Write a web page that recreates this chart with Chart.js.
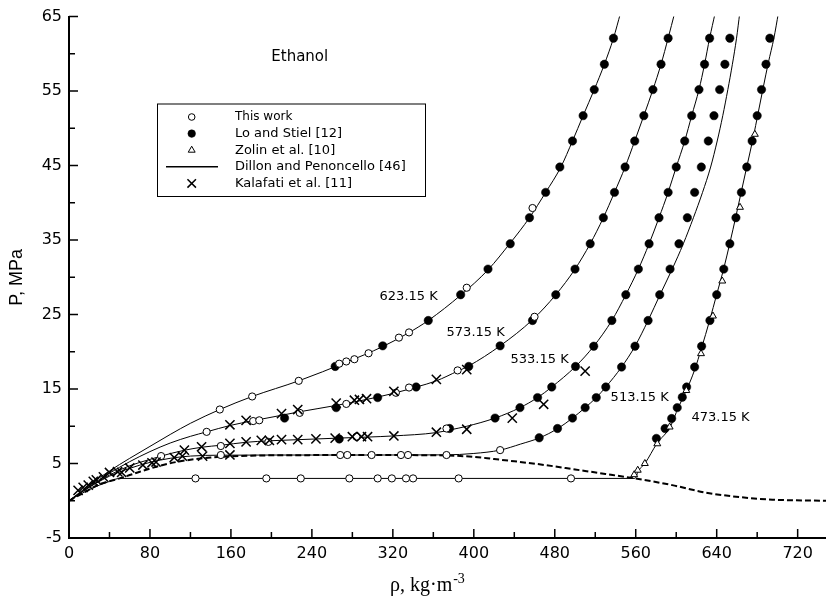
<!DOCTYPE html>
<html>
<head>
<meta charset="utf-8">
<script src="https://cdn.jsdelivr.net/npm/chart.js@4/dist/chart.umd.min.js"></script>
<style>
  html, body { margin: 0; padding: 0; background: #fff; overflow: hidden; }
  canvas { display: block; }
</style>
</head>
<body>
<canvas id="pvt" width="826" height="598"></canvas>
<script>
// ---- data (density kg/m3, pressure MPa) ----

// Dillon and Penoncello isotherms
const d623Rho = [0, 20, 40, 60, 80, 100, 120, 149, 181, 227, 274, 310, 335, 355, 387, 414, 436, 455, 471, 486, 497.5, 508, 519, 529, 538, 545];
const d623P   = [0, 2.1, 4.0, 5.7, 7.3, 8.9, 10.4, 12.25, 14.0, 16.1, 18.6, 20.7, 22.5, 24.2, 27.6, 31.0, 34.6, 38.0, 41.4, 44.8, 48.3, 51.7, 55.2, 58.6, 62.1, 65.5];
const d573Rho = [0, 20, 40, 60, 80, 100, 120, 136, 159, 182, 211, 228, 264, 294, 320, 344, 363, 384, 395, 426, 458, 481, 500, 515, 528, 539, 549.5, 559, 568, 577, 585, 592, 598.5];
const d573P   = [0, 1.95, 3.7, 5.25, 6.6, 7.75, 8.65, 9.25, 10.1, 10.75, 11.5, 11.95, 12.8, 13.6, 14.4, 15.3, 16.1, 17.4, 18.1, 20.8, 24.3, 27.66, 31.1, 34.5, 38.0, 41.4, 44.8, 48.3, 51.7, 55.2, 58.6, 62.1, 65.5];
const d533Rho = [0, 20, 40, 60, 80, 91, 113, 132, 150, 175, 198, 226, 264, 295, 320, 363, 376, 393, 421, 445.6, 463, 477, 500.5, 518.5, 536.4, 550.2, 562.6, 573.2, 583, 592, 600, 608.4, 615.3, 622.5, 628, 633, 638.5];
const d533P   = [0, 1.85, 3.45, 4.7, 5.55, 6.0, 6.75, 7.2, 7.45, 7.85, 8.05, 8.2, 8.4, 8.55, 8.7, 9.15, 9.5, 10.0, 11.1, 12.5, 13.85, 15.27, 18.03, 20.75, 24.2, 27.66, 31.1, 34.5, 38.0, 41.4, 44.8, 48.3, 51.7, 55.2, 58.6, 62.1, 65.5];
const d513Rho = [0, 20, 40, 60, 80, 100, 120, 150, 200, 300, 372, 400, 426, 446, 465, 483, 497.5, 510, 521, 530.4, 546, 559.3, 572.2, 584, 596, 607, 617, 626, 634, 640.5, 646, 651, 655.5, 659.6, 662.8];
const d513P   = [0, 1.8, 3.3, 4.35, 5.15, 5.7, 6.0, 6.12, 6.14, 6.14, 6.16, 6.35, 6.8, 7.6, 8.45, 9.7, 11.1, 12.5, 13.85, 15.27, 17.95, 20.75, 24.2, 27.66, 31.1, 34.5, 38.0, 41.4, 44.8, 48.3, 51.7, 55.2, 58.6, 62.1, 65.5];
const d473Rho = [0, 10, 20, 30, 40, 50, 125, 300, 500, 559, 563, 569, 581, 594, 602, 610, 618, 625, 633, 640, 647, 653, 659, 664.5, 670, 676, 681, 686, 691, 696.5, 701];
const d473P   = [0, 0.8, 1.5, 2.1, 2.6, 3.0, 3.0, 3.0, 3.0, 3.0, 4.1, 5.0, 7.7, 9.9, 12.5, 14.8, 17.5, 20.5, 24.2, 27.7, 31.2, 34.6, 38.2, 41.6, 45.0, 48.7, 52.1, 55.5, 58.8, 62.1, 65.5];

// saturation (coexistence) curve, dashed
const satRho = [0, 15, 30, 50, 70, 90, 110, 140, 180, 230, 276, 330, 372, 400, 420, 440, 470, 500, 530, 559, 596, 629, 662, 695, 748];
const satP   = [0, 1.1, 2.2, 3.0, 3.9, 4.7, 5.3, 5.8, 6.05, 6.12, 6.14, 6.13, 6.08, 5.9, 5.6, 5.3, 4.8, 4.2, 3.6, 3.0, 2.1, 1.1, 0.5, 0.15, 0.0];

// This work (open circles)
const tw623Rho = [149, 181, 227, 267, 274, 282, 296, 326, 336, 393, 458];
const tw623P   = [12.25, 14.0, 16.1, 18.4, 18.7, 19.0, 19.8, 21.9, 22.6, 28.6, 39.3];
const tw573Rho = [136, 182, 188, 228, 274, 323, 336, 384, 460];
const tw573P   = [9.25, 10.7, 10.8, 11.8, 13.0, 14.5, 15.2, 17.5, 24.7];
const tw533Rho = [91, 150, 197, 284, 373];
const tw533P   = [6.0, 7.35, 7.9, 8.6, 9.7];
const tw513Rho = [150, 268, 275, 299, 328, 335, 373, 426];
const tw513P   = [6.14, 6.14, 6.14, 6.14, 6.14, 6.14, 6.14, 6.8];
const tw473Rho = [125, 195, 229, 277, 305, 319, 333, 340, 385, 496];
const tw473P   = [3.0, 3.0, 3.0, 3.0, 3.0, 3.0, 3.0, 3.0, 3.0, 3.0];

// Lo and Stiel [12] (filled circles)
const ls623Rho = [263, 310, 355, 387, 414, 436, 455, 471, 485, 497.5, 508, 519, 529, 538];
const ls623P   = [18.03, 20.8, 24.2, 27.66, 31.1, 34.5, 38.0, 41.4, 44.8, 48.3, 51.7, 55.2, 58.6, 62.1];
const ls573Rho = [213, 264, 305, 343, 395, 426, 458, 481, 500, 515, 528, 539, 549.5, 559, 568, 577, 585, 592];
const ls573P   = [11.1, 12.5, 13.85, 15.27, 18.03, 20.8, 24.2, 27.66, 31.1, 34.5, 38.0, 41.4, 44.8, 48.3, 51.7, 55.2, 58.6, 62.1];
const ls533Rho = [267, 376, 421, 445.6, 463, 477, 500.5, 518.5, 536.4, 550.2, 562.6, 573.2, 583, 592, 600, 608.4, 615.3, 622.5, 628, 633];
const ls533P   = [8.3, 9.7, 11.1, 12.5, 13.85, 15.27, 18.03, 20.75, 24.2, 27.66, 31.1, 34.5, 38.0, 41.4, 44.8, 48.3, 51.7, 55.2, 58.6, 62.1];
const ls513Rho = [464.6, 482.7, 497.5, 510, 521, 530.4, 546, 559.3, 572.2, 583.7, 593.9, 602.7, 611, 618.2, 624.8, 631.7, 637.3, 642.9, 648.1, 653];
const ls513P   = [8.45, 9.7, 11.1, 12.5, 13.85, 15.27, 17.95, 20.75, 24.2, 27.66, 31.1, 34.5, 38.0, 41.4, 44.8, 48.3, 51.7, 55.2, 58.6, 62.1];
const ls473Rho = [580.4, 589, 595.5, 601, 606, 610.3, 618.2, 625.1, 633.3, 640, 647, 653, 659, 664.4, 669.7, 675, 680, 684.3, 688.7, 692.5];
const ls473P   = [8.37, 9.7, 11.04, 12.5, 13.9, 15.27, 17.95, 20.75, 24.2, 27.66, 31.1, 34.5, 38.0, 41.4, 44.8, 48.3, 51.7, 55.2, 58.6, 62.1];

// Zolin et al. [10] (open triangles, 473.15 K)
const zoRho = [558.5, 562, 569, 581.3, 593.5, 610, 624.5, 636.3, 645.5, 663, 677.7];
const zoP   = [3.5, 4.1, 5.0, 7.65, 9.9, 14.8, 19.75, 24.8, 29.5, 39.4, 49.2];

// Kalafati et al. [11] (crosses)
const kaLowRho = [9, 14, 19, 24, 27, 34, 40, 48, 52, 60, 73, 82, 86, 104];
const kaLowP   = [1.4, 1.8, 2.1, 2.6, 2.8, 3.2, 3.8, 3.9, 3.8, 4.4, 4.8, 5.1, 5.2, 5.8];
const ka513Rho = [112, 132, 159];
const ka513P   = [6.0, 6.0, 6.15];
const ka533Rho = [114, 131, 159, 175, 190, 198, 210, 226, 244, 263, 280, 289, 295, 321, 363, 393, 438, 469, 510];
const ka533P   = [6.8, 7.25, 7.7, 7.9, 8.1, 8.1, 8.2, 8.2, 8.3, 8.4, 8.6, 8.6, 8.6, 8.7, 9.2, 9.6, 11.1, 12.95, 17.4];
const ka573Rho = [159, 175, 210, 226, 264, 282, 287, 294, 321, 363, 393];
const ka573P   = [10.2, 10.8, 11.7, 12.25, 13.1, 13.5, 13.6, 13.7, 14.7, 16.3, 17.6];

const legendLabels = ['This work', 'Lo and Stiel [12]', 'Zolin et al. [10]', 'Dillon and Penoncello [46]', 'Kalafati et al. [11]'];
const isoLabels = ['623.15 K', '573.15 K', '533.15 K', '513.15 K', '473.15 K'];
const isoLabelAt = [[335.6, 27.4], [401.8, 22.6], [465, 18.9], [563.9, 13.8], [643.8, 11.1]];

// ---- helpers ----
const pts = (xs, ys) => xs.map((v, i) => ({ x: v, y: ys[i] }));
const join = (...pairs) => pairs.flatMap(([xs, ys]) => pts(xs, ys));

const markerBase = { showLine: false, borderColor: '#000', order: 0 };
const curve = (xs, ys) => ({
  data: pts(xs, ys), showLine: true, pointRadius: 0, borderColor: '#000', borderWidth: 1,
  cubicInterpolationMode: 'monotone', order: 5
});

const datasets = [
  Object.assign({}, markerBase, {
    label: legendLabels[4],
    data: join([kaLowRho, kaLowP], [ka513Rho, ka513P], [ka533Rho, ka533P], [ka573Rho, ka573P]),
    pointStyle: 'crossRot', pointRadius: 6.5, borderWidth: 1.5, backgroundColor: '#000'
  }),
  Object.assign({}, markerBase, {
    label: legendLabels[2],
    data: pts(zoRho, zoP),
    pointStyle: 'triangle', pointRadius: 4, borderWidth: 1, backgroundColor: '#fff'
  }),
  Object.assign({}, markerBase, {
    label: legendLabels[0],
    data: join([tw623Rho, tw623P], [tw573Rho, tw573P], [tw533Rho, tw533P], [tw513Rho, tw513P], [tw473Rho, tw473P]),
    pointStyle: 'circle', pointRadius: 3.6, borderWidth: 1, backgroundColor: '#fff'
  }),
  Object.assign({}, markerBase, {
    label: legendLabels[1],
    data: join([ls623Rho, ls623P], [ls573Rho, ls573P], [ls533Rho, ls533P], [ls513Rho, ls513P], [ls473Rho, ls473P]),
    pointStyle: 'circle', pointRadius: 4.2, borderWidth: 0.5, backgroundColor: '#000'
  }),
  curve(d623Rho, d623P),
  curve(d573Rho, d573P),
  curve(d533Rho, d533P),
  curve(d513Rho, d513P),
  curve(d473Rho, d473P),
  Object.assign(curve(satRho, satP), { borderWidth: 2, borderDash: [6, 3] })
];

// inward tick marks, drawn on the library's own tick positions
const insideTicks = {
  id: 'insideTicks',
  afterDraw(chart) {
    const { ctx, chartArea: a, scales: { x, y } } = chart;
    ctx.save();
    ctx.strokeStyle = '#000';
    ctx.lineWidth = 1.5;
    ctx.beginPath();
    x.ticks.forEach(t => {
      if (t.value === 0) return;
      const px = x.getPixelForValue(t.value);
      const len = t.value % 80 === 0 ? 9 : 6;
      ctx.moveTo(px, a.bottom);
      ctx.lineTo(px, a.bottom - len);
    });
    y.ticks.forEach(t => {
      if (t.value === -5) return;
      const py = y.getPixelForValue(t.value);
      const len = (t.value + 5) % 10 === 0 ? 9 : 6;
      ctx.moveTo(a.left, py);
      ctx.lineTo(a.left + len, py);
    });
    ctx.stroke();
    ctx.restore();
  }
};

// texts inside the plot, the x title and the framed legend
const notes = {
  id: 'notes',
  afterDraw(chart) {
    const { ctx, chartArea: a, scales: { x, y } } = chart;
    ctx.save();
    ctx.fillStyle = '#000';
    ctx.textBaseline = 'middle';
    ctx.textAlign = 'center';

    ctx.font = '15px "DejaVu Sans"';
    ctx.fillText('Ethanol', x.getPixelForValue(228), y.getPixelForValue(59.6));

    ctx.font = '13px "DejaVu Sans"';
    isoLabels.forEach((t, i) => {
      ctx.fillText(t, x.getPixelForValue(isoLabelAt[i][0]), y.getPixelForValue(isoLabelAt[i][1]));
    });

    // x axis title with superscript
    ctx.textAlign = 'left';
    ctx.textBaseline = 'alphabetic';
    const main = 'ρ, kg·m', sup = '-3';
    ctx.font = '20px "Liberation Serif"';
    const w1 = ctx.measureText(main).width;
    const x0 = a.left + 321;
    ctx.fillText(main, x0, 591);
    ctx.font = '14px "Liberation Serif"';
    ctx.fillText(sup, x0 + w1 + 1, 583);

    // legend
    const bx = 157, by = 103.5, bw = 268, bh = 92.5;
    ctx.strokeStyle = '#000';
    ctx.lineWidth = 1;
    ctx.strokeRect(bx + 0.5, by + 0.5, bw, bh);
    const symX = 191.7, textX = 235, rowY = 117, rowH = 16.6;
    const H = Chart.helpers;
    legendLabels.forEach((lab, i) => {
      const cy = rowY + i * rowH;
      ctx.save();
      ctx.strokeStyle = '#000';
      if (i === 0) { ctx.fillStyle = '#fff'; ctx.lineWidth = 1; H.drawPoint(ctx, { pointStyle: 'circle', radius: 3.3, borderWidth: 1 }, symX, cy); }
      if (i === 1) { ctx.fillStyle = '#000'; ctx.lineWidth = 0.5; H.drawPoint(ctx, { pointStyle: 'circle', radius: 3.8, borderWidth: 0.5 }, symX, cy); }
      if (i === 2) { ctx.fillStyle = '#fff'; ctx.lineWidth = 1; H.drawPoint(ctx, { pointStyle: 'triangle', radius: 4, borderWidth: 1 }, symX, cy); }
      if (i === 3) { ctx.lineWidth = 1.5; ctx.beginPath(); ctx.moveTo(166, cy); ctx.lineTo(218, cy); ctx.stroke(); }
      if (i === 4) { ctx.fillStyle = '#000'; ctx.lineWidth = 1.5; H.drawPoint(ctx, { pointStyle: 'crossRot', radius: 6, borderWidth: 1.5 }, symX, cy); }
      ctx.restore();
      ctx.fillStyle = '#000';
      ctx.textBaseline = 'middle';
      ctx.font = (i === 0 ? '12px' : '13px') + ' "DejaVu Sans"';
      ctx.fillText(lab, textX, cy);
    });
    ctx.restore();
  }
};

new Chart(document.getElementById('pvt'), {
  type: 'scatter',
  data: { datasets: datasets },
  plugins: [insideTicks, notes],
  options: {
    responsive: false,
    animation: false,
    layout: { autoPadding: false, padding: { top: 15, right: 0, bottom: 0, left: 0 } },
    plugins: { legend: { display: false }, tooltip: { enabled: false } },
    scales: {
      x: {
        type: 'linear', min: 0, max: 748,
        afterFit: s => { s.height = 60; s.paddingLeft = 0; s.paddingRight = 0; },
        grid: { display: false, drawTicks: false },
        border: { display: true, color: '#000', width: 2 },
        ticks: {
          stepSize: 40, includeBounds: false, autoSkip: false, maxRotation: 0,
          color: '#000', padding: 6, font: { family: 'DejaVu Sans', size: 16 },
          callback: v => (v % 80 === 0 ? String(v) : '')
        }
      },
      y: {
        type: 'linear', min: -5, max: 65,
        afterFit: s => { s.width = 69; },
        grid: { display: false, drawTicks: false },
        border: { display: true, color: '#000', width: 2 },
        ticks: {
          stepSize: 5, autoSkip: false,
          color: '#000', padding: 7, font: { family: 'DejaVu Sans', size: 16 },
          callback: v => ((v + 5) % 10 === 0 ? String(v) : '')
        },
        title: {
          display: true, text: 'P, MPa', color: '#000',
          font: { family: 'Liberation Sans', size: 18 },
          padding: { top: 6, bottom: 0 }
        }
      }
    }
  }
});
</script>
</body>
</html>
